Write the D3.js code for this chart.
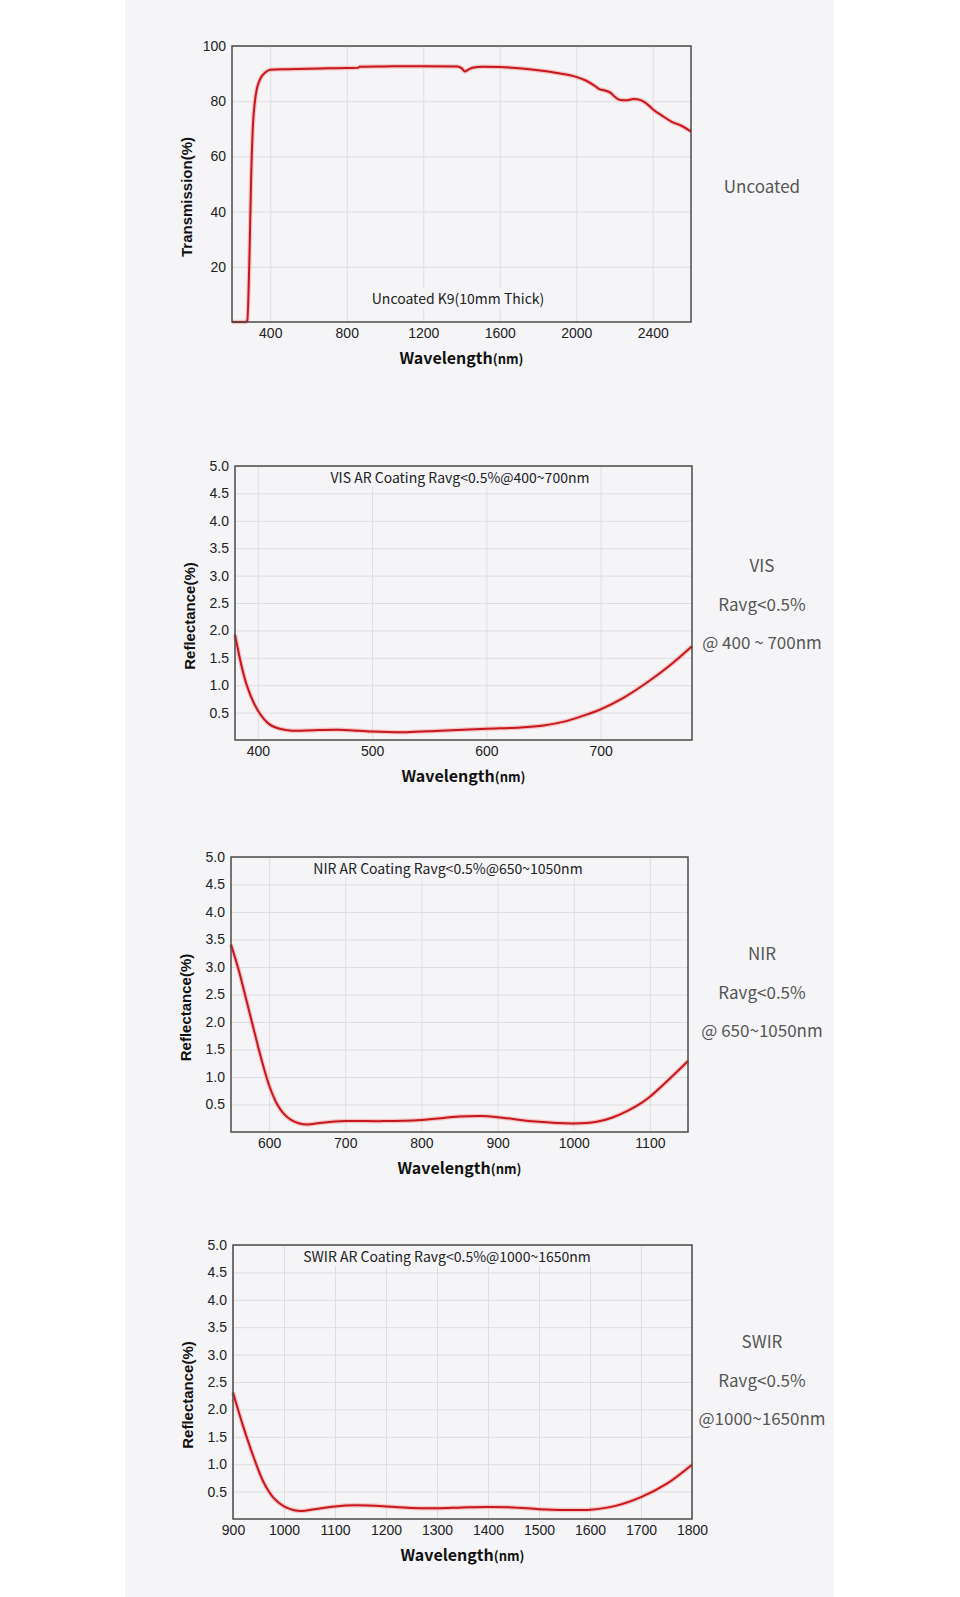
<!DOCTYPE html>
<html>
<head>
<meta charset="utf-8">
<script src="https://cdn.jsdelivr.net/npm/d3@7"></script>
<style>
  body { margin: 0; background: #fff; }
  svg { display: block; }
</style>
</head>
<body>
<div id="chart"></div>
<script>
// Transmission of uncoated K9 (nm, %)
const k9Wave = [200, 270, 280, 290, 300, 310, 320, 330, 340, 355, 372, 400, 500, 600, 700, 800, 860, 866, 1000, 1200, 1380, 1400, 1418, 1440, 1457, 1510, 1600, 1700, 1800, 1900, 2000, 2050, 2100, 2120, 2150, 2180, 2200, 2230, 2260, 2300, 2340, 2380, 2400, 2450, 2500, 2550, 2600];
const k9Trans = [0, 0, 0.5, 20, 52, 72, 80, 84.5, 86.8, 89, 90.3, 91.4, 91.6, 91.8, 91.9, 92.0, 92.1, 92.5, 92.6, 92.7, 92.6, 92.0, 90.8, 91.6, 92.1, 92.5, 92.4, 91.9, 91.2, 90.2, 88.8, 87.5, 85.4, 84.4, 83.9, 83.0, 81.7, 80.4, 80.3, 80.8, 80.3, 78.4, 77.1, 74.7, 72.5, 71.1, 69.0];

// VIS AR coating reflectance
const visWave = [380, 390, 400, 410, 420, 430, 450, 470, 480, 500, 530, 560, 600, 630, 650, 670, 690, 700, 720, 740, 760, 780];
const visRefl = [1.92, 1.02, 0.54, 0.29, 0.20, 0.17, 0.18, 0.185, 0.18, 0.155, 0.143, 0.17, 0.205, 0.228, 0.265, 0.345, 0.48, 0.56, 0.77, 1.04, 1.35, 1.71];

// NIR AR coating reflectance
const nirWave = [550, 560, 570, 580, 590, 600, 610, 620, 630, 640, 650, 670, 700, 750, 800, 850, 880, 900, 950, 1000, 1030, 1050, 1070, 1090, 1100, 1120, 1150];
const nirRefl = [3.41, 2.95, 2.41, 1.86, 1.32, 0.85, 0.52, 0.32, 0.21, 0.155, 0.137, 0.17, 0.20, 0.198, 0.22, 0.28, 0.29, 0.27, 0.19, 0.155, 0.185, 0.26, 0.38, 0.54, 0.64, 0.89, 1.29];

// SWIR AR coating reflectance
const swirWave = [900, 920, 940, 960, 980, 1000, 1020, 1035, 1060, 1100, 1140, 1180, 1250, 1300, 1350, 1400, 1450, 1500, 1550, 1600, 1650, 1700, 1750, 1800];
const swirRefl = [2.31, 1.69, 1.14, 0.67, 0.38, 0.23, 0.16, 0.146, 0.18, 0.23, 0.25, 0.24, 0.20, 0.195, 0.21, 0.22, 0.21, 0.18, 0.165, 0.17, 0.24, 0.40, 0.64, 0.99];

const transTicks = [20, 40, 60, 80, 100];
const reflTicks = [0.5, 1.0, 1.5, 2.0, 2.5, 3.0, 3.5, 4.0, 4.5, 5.0];

const panels = [
  {wave: k9Wave, vals: k9Trans, xDomain: [200, 2600], xTicks: [400, 800, 1200, 1600, 2000, 2400],
   yDomain: [0, 100], yTicks: transTicks, yFmt: d3.format("d"), yLabel: "Transmission(%)",
   box: {x0: 232, x1: 691, y0: 46, y1: 322}, note: "Uncoated K9(10mm Thick)", noteX: 458, noteY: 299,
   side: ["Uncoated"], sideY: 187, curve: d3.curveMonotoneX},
  {wave: visWave, vals: visRefl, xDomain: [380, 780], xTicks: [400, 500, 600, 700],
   yDomain: [0, 5], yTicks: reflTicks, yFmt: d3.format(".1f"), yLabel: "Reflectance(%)",
   box: {x0: 235, x1: 692, y0: 466, y1: 740}, note: "VIS AR Coating Ravg<0.5%@400~700nm", noteX: 460, noteY: 478,
   side: ["VIS", "Ravg<0.5%", "@ 400 ~ 700nm"], sideY: 566, curve: d3.curveCatmullRom},
  {wave: nirWave, vals: nirRefl, xDomain: [550, 1150], xTicks: [600, 700, 800, 900, 1000, 1100],
   yDomain: [0, 5], yTicks: reflTicks, yFmt: d3.format(".1f"), yLabel: "Reflectance(%)",
   box: {x0: 231, x1: 688, y0: 857, y1: 1132}, note: "NIR AR Coating Ravg<0.5%@650~1050nm", noteX: 448, noteY: 869,
   side: ["NIR", "Ravg<0.5%", "@ 650~1050nm"], sideY: 954, curve: d3.curveCatmullRom},
  {wave: swirWave, vals: swirRefl, xDomain: [900, 1800], xTicks: [900, 1000, 1100, 1200, 1300, 1400, 1500, 1600, 1700, 1800],
   yDomain: [0, 5], yTicks: reflTicks, yFmt: d3.format(".1f"), yLabel: "Reflectance(%)",
   box: {x0: 233, x1: 692, y0: 1245, y1: 1519}, note: "SWIR AR Coating Ravg<0.5%@1000~1650nm", noteX: 447, noteY: 1257,
   side: ["SWIR", "Ravg<0.5%", "@1000~1650nm"], sideY: 1342, curve: d3.curveCatmullRom}
];

const W = 960, H = 1597;
const bg = "#f5f5f8";

const svg = d3.select("#chart").append("svg")
  .attr("width", W)
  .attr("height", H);

// grey page panel
svg.append("rect")
  .attr("x", 125).attr("y", 0)
  .attr("width", 834 - 125).attr("height", H)
  .attr("fill", bg);

panels.forEach(p => {
  const b = p.box;
  const x = d3.scaleLinear().domain(p.xDomain).range([b.x0, b.x1]);
  const y = d3.scaleLinear().domain(p.yDomain).range([b.y1, b.y0]);
  const g = svg.append("g");

  // gridlines
  g.append("g")
    .attr("transform", `translate(0,${b.y1})`)
    .call(d3.axisBottom(x).tickValues(p.xTicks).tickSize(-(b.y1 - b.y0)).tickFormat(""))
    .call(s => s.select(".domain").remove())
    .call(s => s.selectAll("line").attr("stroke", "#dedee2").attr("stroke-width", 1));

  g.append("g")
    .attr("transform", `translate(${b.x0},0)`)
    .call(d3.axisLeft(y).tickValues(p.yTicks).tickSize(-(b.x1 - b.x0)).tickFormat(""))
    .call(s => s.select(".domain").remove())
    .call(s => s.selectAll("line").attr("stroke", "#dedee2").attr("stroke-width", 1));

  // note, with a patch behind it that hides the gridlines
  const note = g.append("text")
    .attr("x", p.noteX)
    .attr("y", p.noteY)
    .attr("dy", "0.35em")
    .attr("text-anchor", "middle")
    .style("font-family", "'Noto Sans CJK SC', 'Noto Sans', sans-serif")
    .style("font-size", "14px")
    .style("fill", "#222")
    .text(p.note);
  const nb = note.node().getBBox();
  g.insert("rect", () => note.node())
    .attr("x", nb.x - 4).attr("y", nb.y)
    .attr("width", nb.width + 8).attr("height", nb.height)
    .attr("fill", bg);

  // curve, with a faint halo like the scan
  const line = d3.line()
    .x((d, i) => x(p.wave[i]))
    .y(d => y(d))
    .curve(p.curve);

  g.append("path")
    .datum(p.vals)
    .attr("d", line)
    .attr("fill", "none")
    .attr("stroke", "#f2a5a5")
    .attr("stroke-opacity", 0.6)
    .attr("stroke-width", 4.5);

  g.append("path")
    .datum(p.vals)
    .attr("d", line)
    .attr("fill", "none")
    .attr("stroke", "#c8171c")
    .attr("stroke-width", 2)
    .attr("stroke-linejoin", "round");

  // frame
  g.append("rect")
    .attr("x", b.x0).attr("y", b.y0)
    .attr("width", b.x1 - b.x0).attr("height", b.y1 - b.y0)
    .attr("fill", "none")
    .attr("stroke", "#4a4a4a")
    .attr("stroke-width", 1.5);

  // tick labels
  g.append("g")
    .attr("transform", `translate(0,${b.y1})`)
    .call(d3.axisBottom(x).tickValues(p.xTicks).tickFormat(d3.format("d")).tickSize(0).tickPadding(6))
    .call(s => s.select(".domain").remove())
    .call(s => s.selectAll("text")
      .style("font-family", "'Liberation Sans', Arial, sans-serif")
      .style("font-size", "14px")
      .style("fill", "#222"));

  g.append("g")
    .attr("transform", `translate(${b.x0},0)`)
    .call(d3.axisLeft(y).tickValues(p.yTicks).tickFormat(p.yFmt).tickSize(0).tickPadding(6))
    .call(s => s.select(".domain").remove())
    .call(s => s.selectAll("text")
      .style("font-family", "'Liberation Sans', Arial, sans-serif")
      .style("font-size", "14px")
      .style("fill", "#222"));

  // axis titles
  const cx = (b.x0 + b.x1) / 2;
  const xt = g.append("text")
    .attr("x", cx)
    .attr("y", b.y1 + 42)
    .attr("text-anchor", "middle")
    .style("font-family", "'Noto Sans CJK SC', 'Noto Sans', sans-serif")
    .style("font-weight", "bold")
    .style("font-size", "16px")
    .style("fill", "#111");
  xt.append("tspan").text("Wavelength");
  xt.append("tspan").style("font-size", "13px").text("(nm)");

  g.append("text")
    .attr("transform", `translate(${b.x0 - 45},${(b.y0 + b.y1) / 2 + 13}) rotate(-90)`)
    .attr("text-anchor", "middle")
    .attr("dy", "0.35em")
    .style("font-family", "'Liberation Sans', Arial, sans-serif")
    .style("font-weight", "bold")
    .style("font-size", "15px")
    .style("fill", "#111")
    .text(p.yLabel);

  // side captions
  g.selectAll(".side")
    .data(p.side)
    .enter()
    .append("text")
    .attr("x", 762)
    .attr("y", (d, i) => p.sideY + i * 38.7)
    .attr("dy", "0.35em")
    .attr("text-anchor", "middle")
    .style("font-family", "'Noto Sans CJK SC', 'Noto Sans', sans-serif")
    .style("font-size", "17px")
    .style("fill", "#555")
    .text(d => d);
});
</script>
</body>
</html>
